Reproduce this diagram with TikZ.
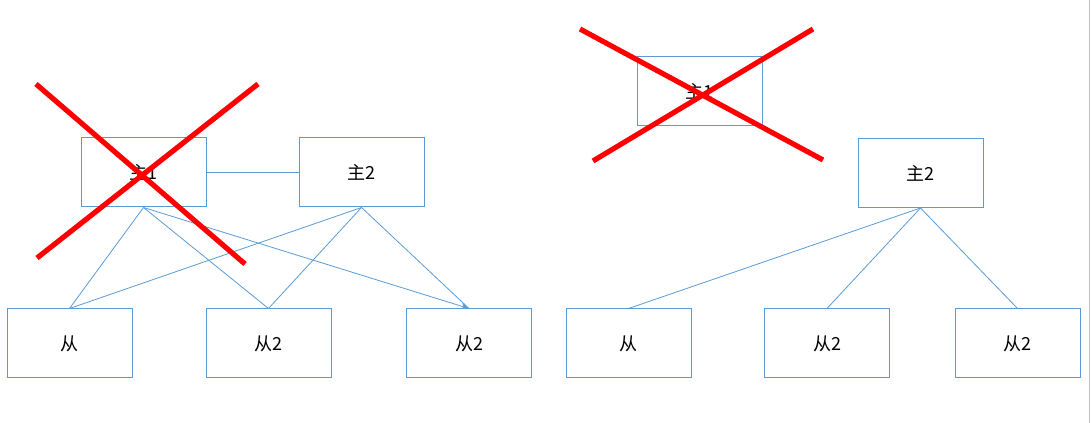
\documentclass[tikz,border=0pt]{standalone}
\usepackage{fontspec}
\setmainfont{Noto Sans CJK SC}
\usetikzlibrary{arrows.meta}
\definecolor{boxblue}{HTML}{5B9BD5}
\definecolor{edgegray}{HTML}{C0C0C0}
\begin{document}
\begin{tikzpicture}[x=0.75pt,y=-0.75pt,
  box/.style={draw=boxblue,line width=0.75pt,minimum width=93.75pt,minimum height=51.75pt,inner sep=0pt,font=\fontsize{13.5}{16}\selectfont},
  link/.style={draw=boxblue,line width=0.6pt},
  cross/.style={draw=red,line width=3.9pt}]
\useasboundingbox (0,0) rectangle (1091,423);
\fill[white] (0,0) rectangle (1091,423);
\draw[edgegray,line width=1.2pt] (1089.5,0) -- (1089.5,423);
% left diagram
\node[box] (m1) at (143.5,172.5) {主1};
\node[box] (m2) at (361.5,172.5) {主2};
\node[box] (s1) at (69.5,343.5) {从};
\node[box] (s2) at (268.5,343.5) {从2};
\node[box] (s3) at (469,343.5) {从2};
\draw[link] (m1.east) -- (m2.west);
\draw[link] (m1.south) -- (s1.north);
\draw[link] (m1.south) -- (s2.north);
\draw[link,-{Stealth[length=6pt,width=4.5pt]}] (m1.south) -- (s3.north);
\draw[link] (m2.south) -- (s1.north);
\draw[link] (m2.south) -- (s2.north);
\draw[link] (m2.south) -- (s3.north);
\coordinate (a1) at (36,84);
\coordinate (a2) at (245,264);
\coordinate (b1) at (258,84);
\coordinate (b2) at (37,258);
\draw[cross] (a1) -- (a2);
\draw[cross] (b1) -- (b2);
% right diagram
\node[box] (n1) at (699.5,91.5) {主1};
\node[box] (n2) at (920.5,173) {主2};
\node[box] (t1) at (628.5,343.5) {从};
\node[box] (t2) at (827,343.5) {从2};
\node[box] (t3) at (1017.5,343.5) {从2};
\draw[link] (n2.south) -- (t1.north);
\draw[link] (n2.south) -- (t2.north);
\draw[link] (n2.south) -- (t3.north);
\coordinate (c1) at (580,29);
\coordinate (c2) at (823,160);
\coordinate (d1) at (813,29);
\coordinate (d2) at (593,161);
\draw[cross] (c1) -- (c2);
\draw[cross] (d1) -- (d2);
\end{tikzpicture}
\end{document}
